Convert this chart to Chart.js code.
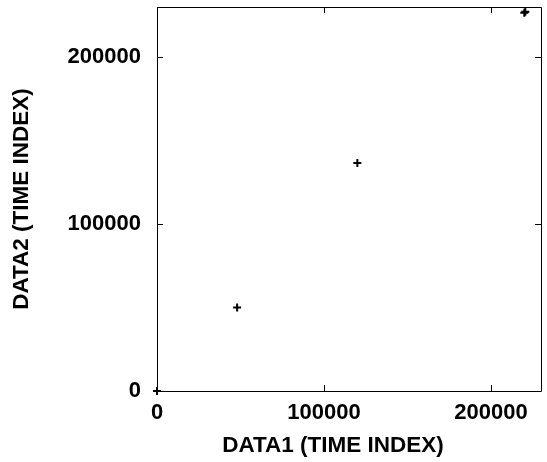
<!DOCTYPE html>
<html>
<head>
<meta charset="utf-8">
<script src="https://cdn.jsdelivr.net/npm/chart.js@4"></script>
<style>
html,body{margin:0;padding:0;background:#fff;}
#wrap{width:547px;height:462px;position:relative;}
</style>
</head>
<body>
<div id="wrap"><canvas id="c" width="547" height="462"></canvas></div>
<script>
const xValues = [0, 48000, 120000, 220000, 220600];
const yValues = [0, 50000, 136500, 226500, 227200];
const tickValues = [0, 100000, 200000];
const xTitle = 'DATA1 (TIME INDEX)';
const yTitle = 'DATA2 (TIME INDEX)';
const axisMax = 230000;

const FONT = '"Liberation Sans", Arial, sans-serif';

const framePlugin = {
  id: 'frame',
  afterDatasetsDraw(chart) {
    const {ctx, chartArea: a, scales} = chart;
    ctx.save();
    ctx.strokeStyle = '#000';
    ctx.lineWidth = 1;
    ctx.beginPath();
    ctx.rect(Math.round(a.left) + 0.5, Math.round(a.top) + 0.5, Math.round(a.right - a.left), Math.round(a.bottom - a.top));
    ctx.stroke();
    const L = 6;
    ctx.beginPath();
    tickValues.forEach(v => {
      const x = Math.round(scales.x.getPixelForValue(v)) + 0.5;
      ctx.moveTo(x, a.bottom); ctx.lineTo(x, a.bottom - L);
      ctx.moveTo(x, a.top); ctx.lineTo(x, a.top + L);
      const y = Math.round(scales.y.getPixelForValue(v)) + 0.5;
      ctx.moveTo(a.left, y); ctx.lineTo(a.left + L, y);
      ctx.moveTo(a.right, y); ctx.lineTo(a.right - L, y);
    });
    ctx.stroke();
    ctx.restore();
  },
  afterDraw(chart) {
    const {ctx, chartArea: a} = chart;
    ctx.save();
    ctx.fillStyle = '#000';
    ctx.font = 'bold 22.5px ' + FONT;
    ctx.textAlign = 'center';
    ctx.textBaseline = 'middle';
    ctx.fillText(xTitle, (a.left + a.right) / 2 - 16, 446);
    ctx.translate(22, (a.top + a.bottom) / 2);
    ctx.rotate(-Math.PI / 2);
    ctx.fillText(yTitle, 0, 0);
    ctx.restore();
  }
};

new Chart(document.getElementById('c'), {
  type: 'scatter',
  data: {
    datasets: [{
      data: xValues.map((x, i) => ({x: x, y: yValues[i]})),
      pointStyle: 'cross',
      pointRadius: 4,
      pointBorderWidth: 2,
      borderColor: '#000',
      backgroundColor: '#000',
      clip: false
    }]
  },
  options: {
    responsive: false,
    animation: false,
    layout: {padding: {top: 7, right: 6, left: 0, bottom: 0}},
    plugins: {legend: {display: false}, tooltip: {enabled: false}},
    scales: {
      x: {
        type: 'linear', min: 0, max: axisMax,
        grid: {display: false},
        border: {display: false},
        afterBuildTicks: s => { s.ticks = tickValues.map(v => ({value: v})); },
        afterFit: s => { s.height = 71; s.paddingLeft = 0; s.paddingRight = 0; },
        ticks: {color: '#000', padding: 1, maxRotation: 0, font: {family: FONT, size: 22, weight: 'bold'}, callback: v => String(v)}
      },
      y: {
        type: 'linear', min: 0, max: axisMax,
        grid: {display: false},
        border: {display: false},
        afterBuildTicks: s => { s.ticks = tickValues.map(v => ({value: v})); },
        afterFit: s => { s.width = 157; s.paddingTop = 0; s.paddingBottom = 0; },
        ticks: {color: '#000', padding: 8, font: {family: FONT, size: 22, weight: 'bold'}, callback: v => String(v)}
      }
    }
  },
  plugins: [framePlugin]
});
</script>
</body>
</html>
